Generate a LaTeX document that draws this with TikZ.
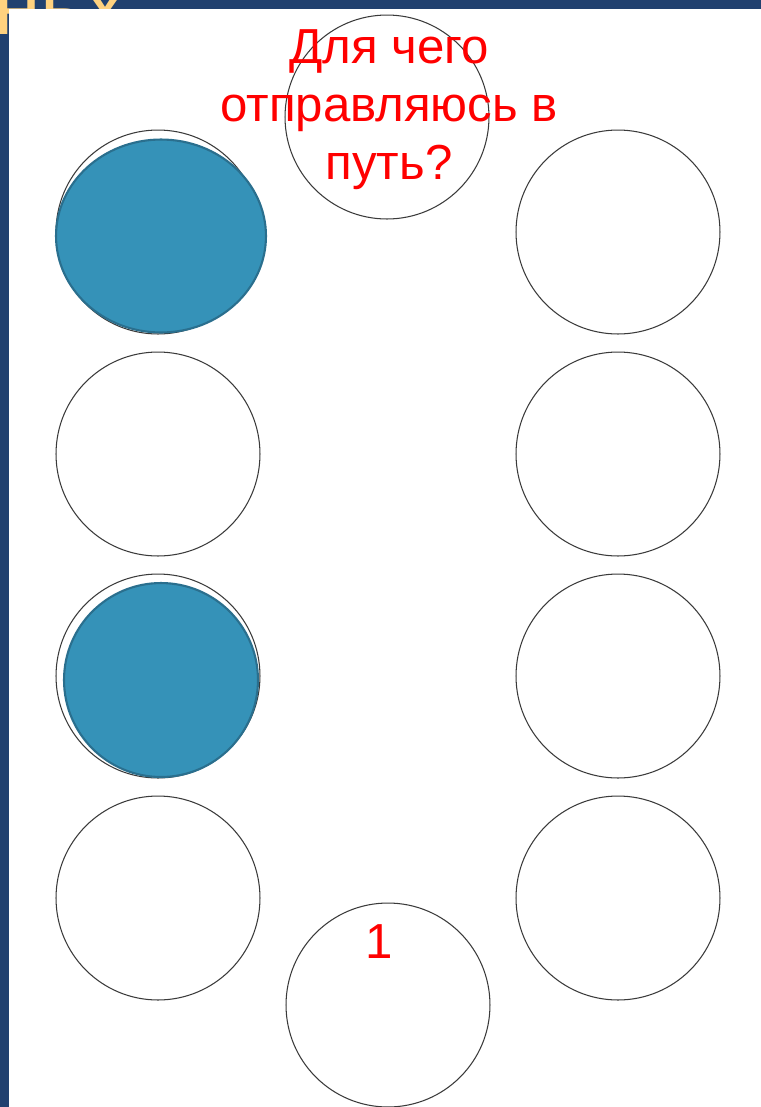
\documentclass[tikz,border=0pt]{standalone}
\usepackage{fontspec}
\newfontfamily\labelfont{Liberation Sans}
\usetikzlibrary{shapes.geometric}
\definecolor{bandblue}{HTML}{21416F}
\definecolor{bandyellow}{HTML}{FFD27F}
\definecolor{discblue}{HTML}{3592B8}
\definecolor{discedge}{HTML}{2A6F8E}
\definecolor{ringgray}{HTML}{3A3A3A}

\begin{document}
\begin{tikzpicture}[
	x=0.02cm, y=-0.02cm,
	ring/.style={ circle, draw=ringgray, line width=0.6pt, inner sep=0pt, minimum size=4.08cm },
	disc/.style={ ellipse, draw=discedge, line width=1.2pt, fill=discblue, inner sep=0pt },
	redtext/.style={ text=red, font=\labelfont\fontsize{28}{33}\selectfont, align=center, inner sep=0pt },
	cuttext/.style={ anchor=base west, text=bandyellow, font=\labelfont\fontsize{48}{56}\selectfont, inner sep=0pt }
]
\useasboundingbox (0,0) rectangle (761,1107);

% slide frame, title cut off at the top
\fill[bandblue] (0,0) rectangle (761,1107);
\begin{scope}
\clip (0,0) rectangle (761,9) (0,0) rectangle (9,1107);
\node at (-6,34) (titlecut) [cuttext] {ньх};
\end{scope}
\fill[white] (9,9) rectangle (761,1107);

% rings
\node at (387,117) (top) [ring] {};
\node at (388,1005) (bottom) [ring] {};
\foreach \y/\n in {232/a,454/b,676/c,898/d} {
	\node at (158,\y) (left\n) [ring] {};
	\node at (618,\y) (right\n) [ring] {};
}

% coloured discs
\node at (161,236) (discone) [disc, minimum width=4.2cm, minimum height=3.86cm] {};
\node at (161,680) (disctwo) [disc, minimum width=3.88cm, minimum height=3.88cm] {};

% texts
\node at (389,110) (question) [redtext] {Для чего\\отправляюсь в\\путь?};
\node at (379,942) (one) [redtext] {1};

\end{tikzpicture}
\end{document}
